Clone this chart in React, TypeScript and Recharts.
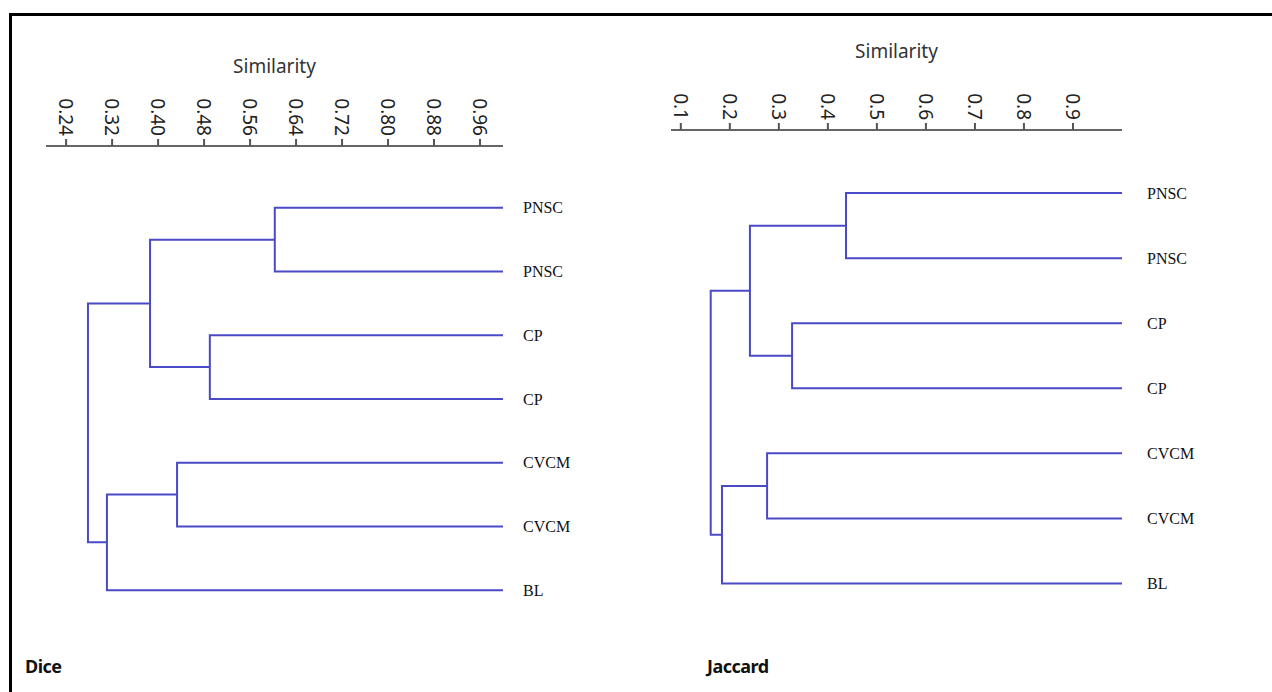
import React from 'react';
import { ComposedChart, Line, XAxis, YAxis } from 'recharts';

// Leaves (top to bottom)
const leafLabels = ['PNSC', 'PNSC', 'CP', 'CP', 'CVCM', 'CVCM', 'BL'];
// Merge steps: node ids 7..12 are created in order
const mergeLeft = [0, 2, 7, 4, 10, 9];
const mergeRight = [1, 3, 8, 5, 6, 11];
const diceSimilarity = [0.603, 0.49, 0.386, 0.433, 0.311, 0.278];
const jaccardSimilarity = [0.437, 0.327, 0.241, 0.276, 0.184, 0.161];
const leafSimilarity = 1.0;
const diceTicks = [0.24, 0.32, 0.4, 0.48, 0.56, 0.64, 0.72, 0.8, 0.88, 0.96];
const jaccardTicks = [0.1, 0.2, 0.3, 0.4, 0.5, 0.6, 0.7, 0.8, 0.9];
const leafTicks = [0, 1, 2, 3, 4, 5, 6];

const LINK_COLOR = '#4a4ac6';

type Pt = { x: number; y: number };

function buildLinks(sims: number[]): Pt[][] {
  const nodeX: number[] = leafLabels.map(() => leafSimilarity);
  const nodeY: number[] = leafLabels.map((_, i) => i);
  const links: Pt[][] = [];
  mergeLeft.forEach((a, k) => {
    const b = mergeRight[k];
    const h = sims[k];
    links.push([
      { x: nodeX[a], y: nodeY[a] },
      { x: h, y: nodeY[a] },
      { x: h, y: nodeY[b] },
      { x: nodeX[b], y: nodeY[b] },
    ]);
    nodeX.push(h);
    nodeY.push((nodeY[a] + nodeY[b]) / 2);
  });
  return links;
}

const RotTick = (props: any) => {
  const { x, y, payload, decimals } = props;
  return (
    <text
      x={x}
      y={y}
      transform={`rotate(90 ${x} ${y})`}
      textAnchor="end"
      dominantBaseline="central"
      fontFamily="'Noto Sans', 'Open Sans', sans-serif"
      fontSize={19}
      fill="#222"
    >
      {Number(payload.value).toFixed(decimals)}
    </text>
  );
};

type DProps = {
  sims: number[];
  ticks: number[];
  xDomain: [number, number];
  decimals: number;
  left: number;
  width: number;
  margin: { top: number; right: number; bottom: number; left: number };
  labelMargin: number;
  titleOffset: number;
};

const Dendro = (p: DProps) => {
  const links = buildLinks(p.sims);
  return (
    <div style={{ position: 'absolute', left: p.left, top: 0 }}>
      <ComposedChart width={p.width} height={692} margin={p.margin}>
        <XAxis
          dataKey="x"
          type="number"
          orientation="top"
          domain={p.xDomain}
          allowDataOverflow
          ticks={p.ticks}
          interval={0}
          height={60}
          tickSize={7}
          tickMargin={3}
          axisLine={{ stroke: '#666', strokeWidth: 2 }}
          tickLine={{ stroke: '#555', strokeWidth: 2 }}
          tick={<RotTick decimals={p.decimals} />}
          label={{
            value: 'Similarity',
            position: 'top',
            offset: p.titleOffset,
            fontFamily: "'Noto Sans', 'Open Sans', sans-serif",
            fontSize: 19,
            fill: '#333',
          }}
        />
        <YAxis
          yAxisId={0}
          type="number"
          orientation="right"
          domain={[-0.97, 6.5]}
          reversed
          allowDataOverflow
          ticks={leafTicks}
          interval={0}
          width={80}
          axisLine={false}
          tickLine={false}
          tickSize={8}
          tickMargin={p.labelMargin}
          tickFormatter={(v: number) => leafLabels[v] ?? ''}
          tick={{ fontFamily: "'Liberation Serif', 'Times New Roman', serif", fontSize: 16, fill: '#111', textAnchor: 'start' }}
        />
        {links.map((d, i) => (
          <Line
            key={i}
            data={d}
            dataKey="y"
            type="linear"
            stroke={LINK_COLOR}
            strokeWidth={2}
            dot={false}
            activeDot={false}
            isAnimationActive={false}
          />
        ))}
      </ComposedChart>
    </div>
  );
};

export default function App() {
  return (
    <div style={{ position: 'absolute', left: 0, top: 0, width: 1272, height: 692, background: '#fff', overflow: 'hidden' }}>
      <div
        style={{
          position: 'absolute',
          left: 9,
          top: 13,
          width: 1300,
          height: 700,
          borderTop: '3px solid #000',
          borderLeft: '3px solid #000',
        }}
      />
      <Dendro
        sims={diceSimilarity}
        ticks={diceTicks}
        xDomain={[0.205, 1.0]}
        decimals={2}
        left={0}
        width={583}
        margin={{ top: 86, right: 0, bottom: 70, left: 46 }}
        labelMargin={12}
        titleOffset={13}
      />
      <Dendro
        sims={jaccardSimilarity}
        ticks={jaccardTicks}
        xDomain={[0.08, 1.0]}
        decimals={1}
        left={620}
        width={582}
        margin={{ top: 70, right: 0, bottom: 76, left: 51 }}
        labelMargin={17}
        titleOffset={12}
      />
      <div
        style={{
          position: 'absolute',
          left: 25,
          top: 654,
          fontFamily: "'Noto Sans', 'Open Sans', sans-serif",
          fontWeight: 700,
          fontSize: 18,
          letterSpacing: -0.5,
          color: '#111',
          lineHeight: '24px',
        }}
      >
        Dice
      </div>
      <div
        style={{
          position: 'absolute',
          left: 707,
          top: 654,
          fontFamily: "'Noto Sans', 'Open Sans', sans-serif",
          fontWeight: 700,
          fontSize: 18,
          letterSpacing: -0.5,
          color: '#111',
          lineHeight: '24px',
        }}
      >
        Jaccard
      </div>
    </div>
  );
}
